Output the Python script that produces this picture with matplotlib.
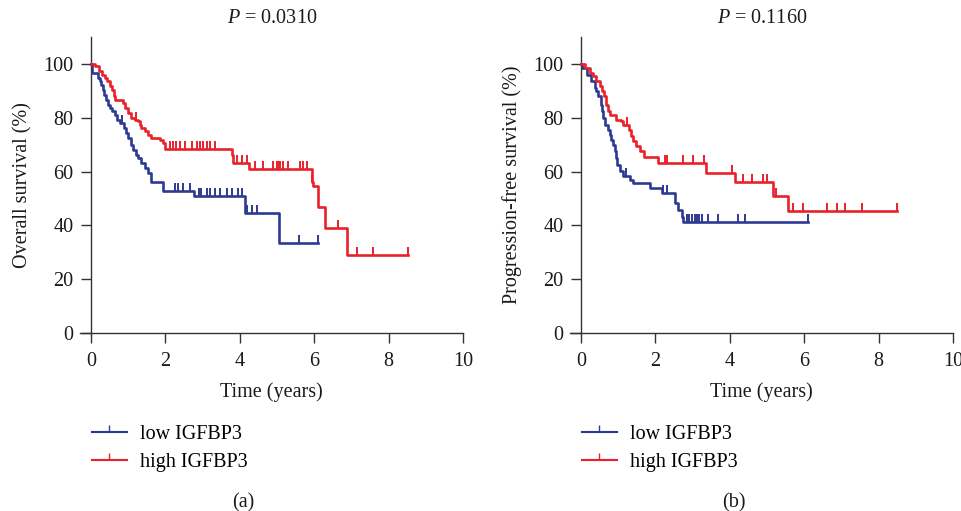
import numpy as np
import matplotlib
matplotlib.use("Agg")
import matplotlib.pyplot as plt
from matplotlib.lines import Line2D

plt.rcParams['font.family'] = ['Liberation Serif', 'DejaVu Serif']
plt.rcParams['mathtext.fontset'] = 'custom'
plt.rcParams['mathtext.rm'] = 'Liberation Serif'
plt.rcParams['mathtext.it'] = 'Liberation Serif:italic'

# ---------------- data ----------------
# Panel (a): overall survival
os_low_t = [0.02, 0.20, 0.24, 0.28, 0.32, 0.35, 0.41, 0.46, 0.50, 0.56, 0.64, 0.71, 0.77, 0.89,
            0.95, 0.99, 1.07, 1.13, 1.22, 1.26, 1.35, 1.44, 1.53, 1.60, 1.94, 2.78, 4.14, 5.04]
os_low_s = [96.7, 94.8, 93.5, 92.3, 90.5, 88.6, 86.7, 84.9, 83.6, 82.4, 81.2, 79.3, 78.0, 76.2,
            74.3, 72.5, 70.0, 68.2, 66.3, 65.1, 63.2, 61.3, 59.5, 56.3, 52.7, 50.8, 44.7, 33.6]
os_low_c = [0.82, 2.26, 2.35, 2.48, 2.66, 2.90, 2.97, 3.11, 3.20, 3.33, 3.47, 3.65, 3.78, 3.96,
            4.05, 4.20, 4.33, 4.47, 5.60, 6.10]

os_high_t = [0.10, 0.22, 0.30, 0.37, 0.44, 0.50, 0.56, 0.62, 0.65, 0.86, 0.91, 0.99, 1.07, 1.17,
             1.26, 1.31, 1.35, 1.44, 1.53, 1.62, 1.85, 1.94, 2.00, 3.78, 3.83, 4.26, 5.93, 5.97,
             6.11, 6.29, 6.87]
os_high_s = [99.1, 97.3, 96.0, 94.8, 93.6, 91.7, 90.5, 88.0, 86.7, 85.5, 83.6, 81.8, 79.9, 79.3,
             78.7, 77.4, 76.2, 75.0, 73.7, 72.5, 71.9, 70.6, 68.5, 66.2, 63.3, 60.8, 56.3, 54.8,
             47.0, 38.9, 29.0]
os_high_c = [1.21, 2.11, 2.20, 2.29, 2.39, 2.53, 2.71, 2.84, 2.93, 3.02, 3.11, 3.20, 3.33, 3.92,
             4.05, 4.19, 4.41, 4.63, 4.90, 4.99, 5.04, 5.08, 5.17, 5.30, 5.62, 5.71, 5.80, 5.95,
             6.64, 7.14, 7.57, 8.53]

# Panel (b): progression-free survival
pfs_low_t = [0.03, 0.17, 0.28, 0.37, 0.41, 0.47, 0.53, 0.56, 0.59, 0.64, 0.73, 0.77, 0.82, 0.86,
             0.91, 0.95, 0.98, 1.04, 1.13, 1.31, 1.40, 1.85, 2.17, 2.53, 2.62, 2.71, 2.75]
pfs_low_s = [98.5, 96.0, 93.6, 91.1, 89.8, 88.0, 84.9, 82.4, 79.9, 77.4, 75.6, 73.7, 71.8, 70.0,
             67.5, 65.1, 62.6, 60.1, 58.5, 57.0, 55.6, 53.8, 51.9, 48.2, 45.7, 43.2, 41.4]
pfs_low_c = [1.22, 2.21, 2.30, 2.84, 2.91, 2.98, 3.06, 3.11, 3.18, 3.24, 3.42, 3.69, 4.23, 4.41, 6.11]

pfs_high_t = [0.10, 0.23, 0.32, 0.41, 0.50, 0.56, 0.62, 0.68, 0.73, 0.77, 0.95, 1.07, 1.13, 1.28,
              1.34, 1.40, 1.49, 1.58, 1.70, 2.08, 3.35, 4.14, 5.17, 5.57]
pfs_high_s = [98.5, 96.7, 95.4, 93.6, 91.7, 89.8, 88.0, 84.9, 82.4, 81.2, 79.3, 78.7, 77.4, 75.6,
              73.1, 71.3, 69.4, 67.5, 65.6, 63.1, 59.6, 56.2, 51.0, 45.5]
pfs_high_c = [1.25, 2.26, 2.30, 2.75, 3.02, 3.31, 4.05, 4.36, 4.59, 4.90, 5.01, 5.23, 5.71, 5.98,
              6.60, 6.87, 7.10, 7.55, 8.49]

titles = [r"$P$ = 0.0310", r"$P$ = 0.1160"]
ylabels = ["Overall survival (%)", "Progression-free survival (%)"]
panel_tags = ["(a)", "(b)"]
legend_labels = ["low IGFBP3", "high IGFBP3"]
xticks = [0, 2, 4, 6, 8, 10]
yticks = [0, 20, 40, 60, 80, 100]

BLUE = "#2D3A93"
RED = "#E8212B"
FS = 14.5
LW = 1.9

fig = plt.figure(figsize=(9.62, 5.11), dpi=100)
lefts = [79.84 / 962, 569.8 / 962]
bottom = (511 - 333) / 511
width = 383.2 / 962
height = 295.9 / 511

panels = [
    [(os_low_t, os_low_s, os_low_c, BLUE), (os_high_t, os_high_s, os_high_c, RED)],
    [(pfs_low_t, pfs_low_s, pfs_low_c, BLUE), (pfs_high_t, pfs_high_s, pfs_high_c, RED)],
]


def surv_at(tc, t, s):
    t = np.asarray(t)
    s = np.r_[100.0, np.asarray(s)]
    idx = np.searchsorted(t, tc, side='right')
    return s[idx]


for i, series in enumerate(panels):
    ax = fig.add_axes([lefts[i], bottom, width, height])
    for t, s, c, col in series:
        end = max(max(c), t[-1])
        x = np.r_[0.0, t, end]
        y = np.r_[100.0, s, s[-1]]
        ax.step(x, y, where='post', color=col, lw=LW, zorder=3)
        cy = surv_at(np.asarray(c), t, s)
        ax.plot(c, cy, linestyle='none', marker=2, color=col, ms=5.5, mew=1.4, zorder=3)
    ax.set_xlim(-0.3, 10)
    ax.set_ylim(0, 110)
    ax.spines['top'].set_visible(False)
    ax.spines['right'].set_visible(False)
    ax.spines['left'].set_position(('data', 0))
    for sp in ('left', 'bottom'):
        ax.spines[sp].set_color('#333333')
        ax.spines[sp].set_linewidth(1.0)
    ax.set_xticks(xticks)
    ax.set_yticks(yticks)
    ax.tick_params(axis='both', direction='out', length=7.5, width=1.0, color='#333333',
                   labelsize=FS, labelcolor='#1a1a1a')
    ax.tick_params(axis='x', pad=6)
    ax.tick_params(axis='y', pad=5)
    ax.set_xlabel("Time (years)", fontsize=FS, color='#1a1a1a', labelpad=8)
    ax.set_ylabel(ylabels[i], fontsize=FS, color='#1a1a1a', labelpad=8)
    ax.set_title(titles[i], fontsize=FS, color='#1a1a1a', pad=10, x=(0.3 + 5) / 10.3 - 0.012)
    handles = [Line2D([], [], color=BLUE, lw=LW * 0.8, marker=2, ms=5, mew=1.0),
               Line2D([], [], color=RED, lw=LW * 0.8, marker=2, ms=5, mew=1.0)]
    ax.legend(handles, legend_labels, loc='upper left', bbox_to_anchor=(0.031, -0.311),
              frameon=False, fontsize=FS, handlelength=1.75, handletextpad=0.65,
              labelspacing=0.45, borderpad=0, borderaxespad=0, numpoints=1)
    ax.text((0.3 + 4.1) / 10.3, -0.575, panel_tags[i], transform=ax.transAxes,
            ha='center', va='center', fontsize=FS, color='#1a1a1a')

fig.savefig("out.png", dpi=100)
